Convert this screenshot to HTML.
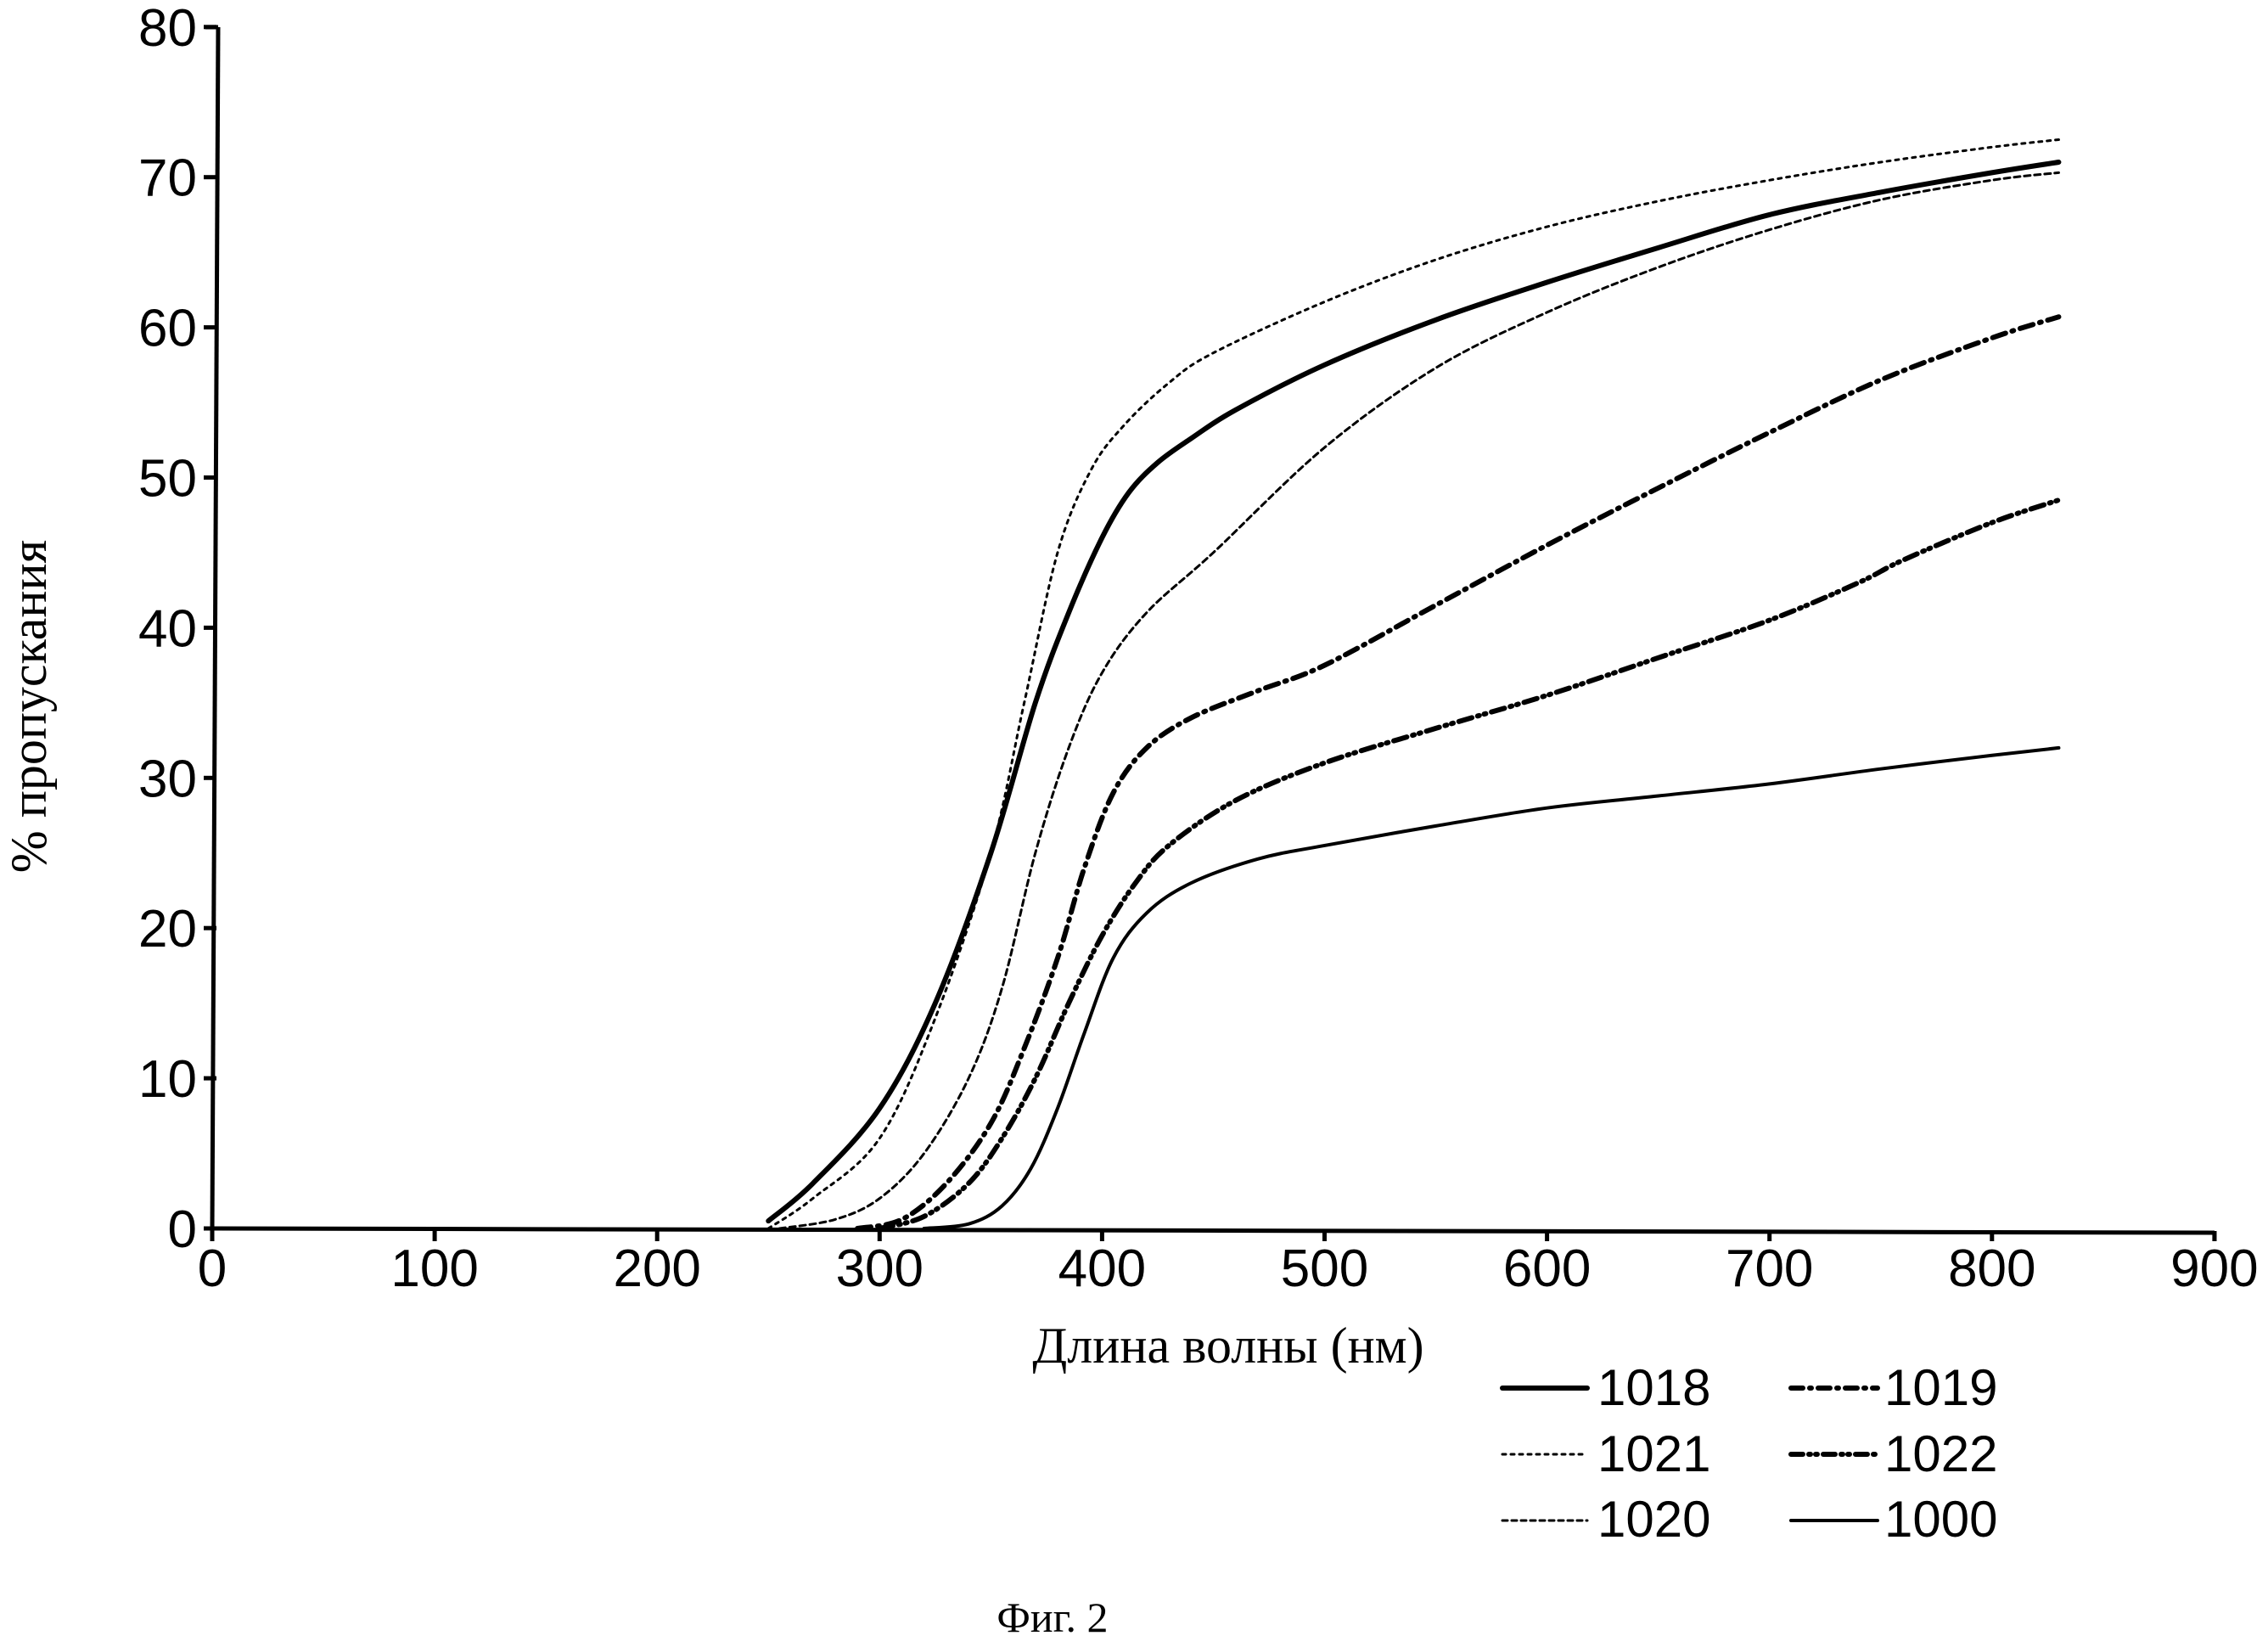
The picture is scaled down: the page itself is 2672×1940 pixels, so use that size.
<!DOCTYPE html>
<html><head><meta charset="utf-8"><style>
html,body{margin:0;padding:0;background:#fff;}
svg{display:block}
</style></head><body>
<svg id="s" width="2672" height="1940" viewBox="0 0 2672 1940" xmlns="http://www.w3.org/2000/svg">
<g stroke="#000" stroke-width="5" fill="none">
<line x1="257" y1="32" x2="250" y2="1450"/>
<line x1="248" y1="1447" x2="2609" y2="1452"/>
<line x1="242" y1="32" x2="257" y2="32"/>
<line x1="2609" y1="1450" x2="2609" y2="1462"/>
</g>
<g id="ticks" stroke="#000" stroke-width="5"></g>
<g id="labels" font-family="Liberation Sans, sans-serif" font-size="62" fill="#000"></g>
<g id="curves" fill="none" stroke="#000" stroke-linejoin="round" stroke-linecap="round"></g>
<text x="40" y="832" font-family="Liberation Serif, serif" font-size="60" text-anchor="middle" transform="rotate(-90 40 832)" dominant-baseline="middle">% пропускания</text>
<text x="1447" y="1605" font-family="Liberation Serif, serif" font-size="60" text-anchor="middle">Длина волны (нм)</text>
<text x="1240" y="1922" font-family="Liberation Serif, serif" font-size="50" text-anchor="middle">Фиг. 2</text>
<g font-family="Liberation Sans, sans-serif" font-size="60" fill="#000">
<text x="1882" y="1655">1018</text>
<text x="2220" y="1655">1019</text>
<text x="1882" y="1733">1021</text>
<text x="2220" y="1733">1022</text>
<text x="1882" y="1810">1020</text>
<text x="2220" y="1810">1000</text>
</g>
<g fill="none" stroke="#000" stroke-linecap="round">
<line x1="1770" y1="1635" x2="1870" y2="1635" stroke-width="6"/>
<line x1="2110" y1="1635" x2="2212" y2="1635" stroke-width="6" stroke-dasharray="14 8 2 8"/>
<line x1="1770" y1="1713" x2="1870" y2="1713" stroke-width="3" stroke-dasharray="4 6"/>
<line x1="2110" y1="1713" x2="2212" y2="1713" stroke-width="6" stroke-dasharray="14 7 2 6 2 7"/>
<line x1="1770" y1="1791" x2="1870" y2="1791" stroke-width="3" stroke-dasharray="6 5"/>
<line x1="2110" y1="1791" x2="2212" y2="1791" stroke-width="4"/>
</g>
</svg>
<script>
var NS="http://www.w3.org/2000/svg";
function X(w){return 250+2.621*w;}
function Y(v){return 1447-17.69*v;}
var tk=document.getElementById('ticks'),lb=document.getElementById('labels');
function el(p,n,a,t){var e=document.createElementNS(NS,n);for(var k in a)e.setAttribute(k,a[k]);if(t!==undefined)e.textContent=t;p.appendChild(e);return e;}
for(var w=0;w<=900;w+=100){var x=X(w);el(tk,'line',{x1:x,y1:1447+w*0.0055,x2:x,y2:1462});el(lb,'text',{x:x,y:1515,'text-anchor':'middle'},String(w));}
for(var v=0;v<=80;v+=10){var y=Y(v);el(tk,'line',{x1:240,y1:y,x2:255,y2:y});el(lb,'text',{x:232,y:y+22,'text-anchor':'end'},String(v));}
var C=[
 {d:[[250,0.5],[270,3],[300,8],[325,15],[350,25],[370,35],[385,41],[400,46],[412,49],[425,51],[440,52.6],[460,54.5],[500,57.5],[550,60.5],[600,63],[650,65.3],[700,67.5],[750,69],[800,70.3],[830,71]],w:6,da:''},
 {d:[[250,0],[270,2],[300,6],[325,14],[350,25],[365,35],[380,45],[395,50.5],[410,53.5],[430,56.3],[450,58.3],[500,61.7],[550,64.5],[600,66.7],[650,68.4],[700,69.8],[750,71],[800,72],[830,72.5]],w:3,da:'4 6'},
 {d:[[255,0],[280,0.6],[300,2],[320,5],[340,10],[355,16],[370,25],[385,32],[400,37],[420,41],[450,45],[500,52],[550,57.3],[600,61],[650,64],[700,66.5],[750,68.5],[800,69.8],[830,70.3]],w:3,da:'7 5'},
 {d:[[290,0],[310,0.6],[330,3],[350,7],[365,12],[380,18],[392,24],[405,29],[420,32],[440,34],[470,35.8],[500,37.5],[550,41.5],[600,45.5],[650,49.3],[700,53],[750,56.5],[800,59.3],[830,60.7]],w:6,da:'16 8 2 8'},
 {d:[[300,0],[320,0.8],[340,3],[355,6],[370,10],[385,15],[400,19.5],[415,23],[430,25.5],[460,28.5],[500,31],[550,33.3],[600,35.5],[650,38],[700,40.5],[740,43],[760,44.5],[800,47],[830,48.5]],w:6,da:'16 7 2 6 2 7'},
 {d:[[320,0],[340,0.3],[355,1.5],[368,4],[380,8],[392,13],[405,18],[420,21],[440,23],[470,24.6],[500,25.5],[550,26.8],[600,28],[650,28.8],[700,29.6],[750,30.6],[800,31.5],[830,32]],w:4,da:''}
];
var g=document.getElementById('curves');
C.forEach(function(c){
 var p=c.d.map(function(q){return [X(q[0]),Y(q[1])];});
 var s='M'+p[0][0]+','+p[0][1];
 for(var i=0;i<p.length-1;i++){
  var p0=p[i-1]||p[i],p1=p[i],p2=p[i+1],p3=p[i+2]||p2;
  var c1x=p1[0]+(p2[0]-p0[0])/6,c1y=p1[1]+(p2[1]-p0[1])/6,c2x=p2[0]-(p3[0]-p1[0])/6,c2y=p2[1]-(p3[1]-p1[1])/6;
  s+=' C'+c1x+','+c1y+' '+c2x+','+c2y+' '+p2[0]+','+p2[1];
 }
 var a={d:s,'stroke-width':c.w};if(c.da)a['stroke-dasharray']=c.da;
 el(g,'path',a);
});
</script>
</body></html>
